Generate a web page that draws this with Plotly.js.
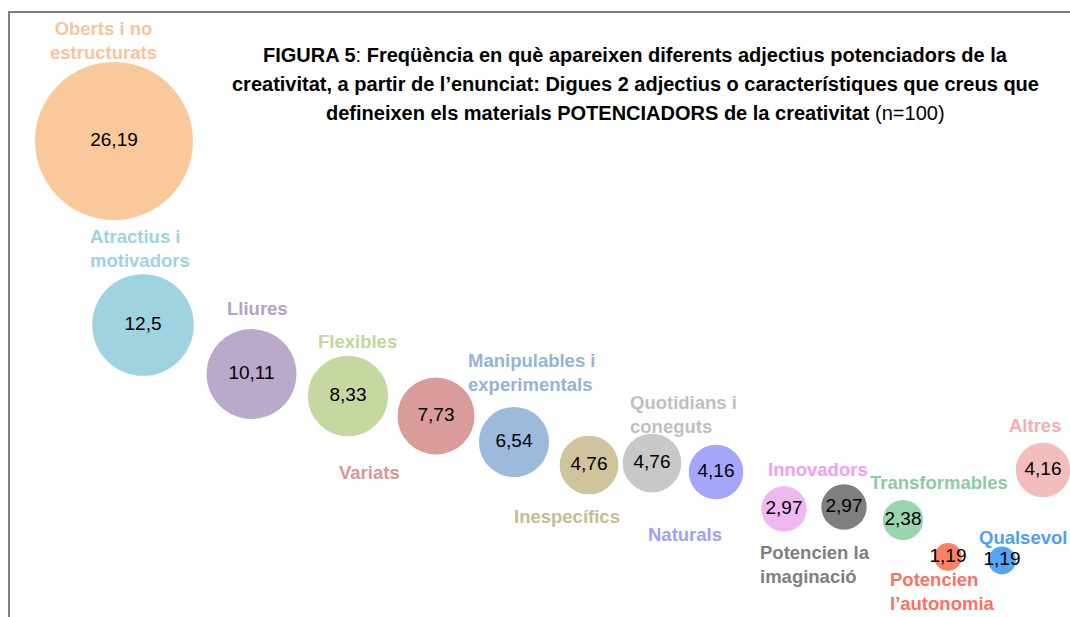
<!DOCTYPE html>
<html>
<head>
<meta charset="utf-8">
<script src="https://cdn.plot.ly/plotly-3.0.1.min.js"></script>
<style>html,body{margin:0;padding:0;background:#fff}#chart{width:1070px;height:617px}</style>
</head>
<body>
<div id="chart"></div>
<script>
// ---- data ----
const categories = ["Oberts i no<br>estructurats", "Atractius i<br>motivadors", "Lliures", "Flexibles", "Variats",
  "Manipulables i<br>experimentals", "Inespecífics", "Quotidians i<br>coneguts", "Naturals", "Innovadors",
  "Potencien la<br>imaginació", "Transformables", "Potencien<br>l’autonomia", "Qualsevol", "Altres"];
const values = [26.19, 12.5, 10.11, 8.33, 7.73, 6.54, 4.76, 4.76, 4.16, 2.97, 2.97, 2.38, 1.19, 1.19, 4.16];
// bubble-chart X / Y coordinates (arbitrary placement units)
const xPos = [11.4, 14.3, 25.15, 34.8, 43.6, 51.4, 58.9, 65.2, 71.6, 78.4, 84.4, 90.3, 94.8, 100.2, 104.3];
const yPos = [47.6, 29.2, 24.3, 22.1, 20.1, 17.5, 15.2, 15.4, 14.5, 10.8, 11.0, 9.7, 6.0, 5.65, 14.7];

// ---- styles ----
const fillColors = ["#F9C89B", "#9FD3E0", "#B9A9CB", "#C6D8A0", "#D99C9A", "#9DB9DC", "#CFC49C", "#C8C8C8",
  "#A5A5F9", "#F0B8F0", "#7F7F7F", "#99D6B0", "#FF8066", "#55A5F5", "#F4BDBD"];
const labelColors = ["#F8C49A", "#9DD4E0", "#B3A2C7", "#C3D69B", "#D99694", "#95B3D7", "#C4BD97", "#BFBFBF",
  "#9F9FFF", "#F0A0F0", "#7F7F7F", "#8CCCA5", "#FF7060", "#4FA0F5", "#F2B0B0"];
// label placement (same units as the axes), anchor
const labelPlace = [
  [10.3, 57.7, "center"], [8.8, 36.9, "left"], [25.7, 30.9, "center"], [35.7, 27.6, "center"], [36.9, 14.5, "center"],
  [46.6, 24.5, "left"], [56.7, 10.1, "center"], [62.8, 20.3, "left"], [68.5, 8.3, "center"], [81.8, 14.8, "center"],
  [75.8, 5.3, "left"], [93.9, 13.5, "center"], [88.8, 2.6, "left"], [102.3, 8.0, "center"], [103.5, 19.2, "center"]
];

const FONT = "'Liberation Sans', Arial, Helvetica, sans-serif";
const diam = v => 24 * Math.sqrt(v) + 1.34 * v;

const trace = {
  type: "scatter",
  mode: "markers+text",
  x: xPos,
  y: yPos,
  text: values.map(v => String(v).replace(".", ",")),
  textposition: "middle center",
  textfont: {family: FONT, size: 19, color: "#000"},
  marker: {size: values.map(diam), sizemode: "diameter", color: fillColors, opacity: 1, line: {width: 0}},
  cliponaxis: false,
  hoverinfo: "skip"
};

const annotations = categories.map((c, i) => ({
  xref: "x", yref: "y", x: labelPlace[i][0], y: labelPlace[i][1],
  text: "<b>" + c + "</b>", showarrow: false,
  xanchor: labelPlace[i][2], yanchor: "middle", align: labelPlace[i][2],
  font: {family: FONT, size: 18.5, color: labelColors[i]}
}));

const titleLines = [
  "<b>FIGURA 5</b>: <b>Freqüència en què apareixen diferents adjectius potenciadors de la</b>",
  "<b>creativitat, a partir de l’enunciat: Digues 2 adjectius o característiques que creus que</b>",
  "<b>defineixen els materials POTENCIADORS de la creativitat</b> (n=100)"
];
const titleY = [55, 84, 113];
titleLines.forEach((t, i) => annotations.push({
  xref: "paper", yref: "paper", x: 635 / 1070, y: 1 - titleY[i] / 617,
  text: t, showarrow: false, xanchor: "center", yanchor: "middle",
  font: {family: FONT, size: 20, color: "#000"}
}));

const layout = {
  width: 1070, height: 617,
  margin: {l: 0, r: 0, t: 0, b: 0, pad: 0},
  paper_bgcolor: "#fff", plot_bgcolor: "#fff",
  showlegend: false,
  xaxis: {range: [0, 107], visible: false, fixedrange: true},
  yaxis: {range: [0, 61.7], visible: false, fixedrange: true},
  annotations: annotations,
  shapes: [
    {type: "line", xref: "paper", yref: "paper", x0: 8 / 1070, x1: 1, y0: 1 - 12 / 617, y1: 1 - 12 / 617,
     line: {color: "#808080", width: 2}},
    {type: "line", xref: "paper", yref: "paper", x0: 9 / 1070, x1: 9 / 1070, y0: 0, y1: 1 - 12 / 617,
     line: {color: "#808080", width: 2}}
  ]
};

Plotly.newPlot("chart", [trace], layout, {displayModeBar: false, staticPlot: true});
</script>
</body>
</html>
